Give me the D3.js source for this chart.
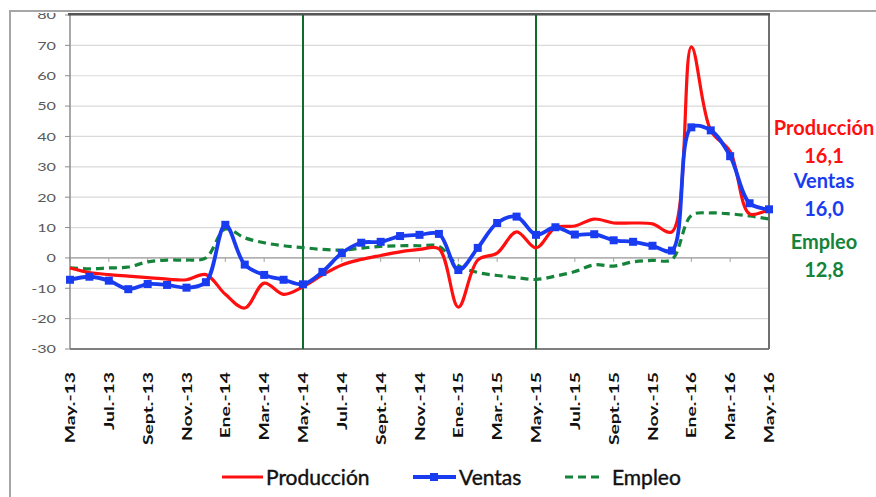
<!DOCTYPE html>
<html>
<head>
<meta charset="utf-8">
<script src="https://cdn.jsdelivr.net/npm/d3@7/dist/d3.min.js"></script>
<style>
  html, body { margin: 0; padding: 0; background: #fff; }
  svg { display: block; }
</style>
</head>
<body>
<svg id="chart" width="876" height="497"></svg>
<script>
// Monthly categories, May 2013 – May 2016
const months = ['May.-13','Jun.-13','Jul.-13','Ago.-13','Sept.-13','Oct.-13','Nov.-13','Dic.-13',
  'Ene.-14','Feb.-14','Mar.-14','Abr.-14','May.-14','Jun.-14','Jul.-14','Ago.-14','Sept.-14','Oct.-14','Nov.-14','Dic.-14',
  'Ene.-15','Feb.-15','Mar.-15','Abr.-15','May.-15','Jun.-15','Jul.-15','Ago.-15','Sept.-15','Oct.-15','Nov.-15','Dic.-15',
  'Ene.-16','Feb.-16','Mar.-16','Abr.-16','May.-16'];

// Labelled months on the category axis
const tickLabels = ['May.-13','Jul.-13','Sept.-13','Nov.-13','Ene.-14','Mar.-14','May.-14','Jul.-14','Sept.-14','Nov.-14',
  'Ene.-15','Mar.-15','May.-15','Jul.-15','Sept.-15','Nov.-15','Ene.-16','Mar.-16','May.-16'];

const produccion = [-3.3,-4.8,-5.5,-6.0,-6.5,-7.0,-7.2,-5.5,-12.0,-16.5,-8.3,-12.0,-9.5,-5.6,-2.3,-0.5,0.8,2.0,2.8,3.0,
  -16.2,-0.7,1.6,8.6,3.3,10.0,10.5,12.8,11.5,11.5,11.2,8.6,69.5,42.0,35.0,14.5,16.1];

const ventas = [-7.2,-6.2,-7.5,-10.3,-8.6,-8.9,-9.8,-8.0,10.9,-2.2,-5.6,-7.2,-8.7,-4.6,1.6,5.0,5.3,7.2,7.6,7.9,
  -4.0,3.3,11.5,13.6,7.6,10.1,7.7,7.8,5.8,5.3,4.0,2.4,43.0,42.0,33.5,18.0,16.0];

const empleo = [-3.3,-3.6,-3.3,-3.0,-1.3,-0.7,-0.7,0.0,9.5,6.6,5.0,4.0,3.4,2.8,2.6,3.2,3.8,4.0,4.0,3.8,
  -2.5,-4.8,-5.8,-6.5,-7.1,-6.0,-4.5,-2.3,-2.7,-1.3,-0.8,-0.5,14.0,14.8,14.5,13.8,12.8];

const yTicks = [-30,-20,-10,0,10,20,30,40,50,60,70,80];
const markerMonths = ['May.-14','May.-15'];

const seriesNames = ['Producción','Ventas','Empleo'];
const latest = ['16,1','16,0','12,8'];

const colors = { prod: '#ff1010', vent: '#1a3cf0', emp: '#15843a', vline: '#0d6b2c' };

const svg = d3.select('#chart');
const plot = { left: 70, right: 769, top: 15, bottom: 349 };

const x = d3.scalePoint().domain(months).range([plot.left, plot.right]);
const y = d3.scaleLinear().domain([-30, 80]).range([plot.bottom, plot.top]);

// Outer frame of the chart object
svg.append('defs').append('clipPath').attr('id', 'frameClip')
  .append('rect').attr('x', 10).attr('y', 13).attr('width', 900).attr('height', 500);

svg.append('rect').attr('x', 10).attr('y', 11).attr('width', 900).attr('height', 500)
  .attr('fill', '#fff').attr('stroke', '#a6a6a6').attr('stroke-width', 2);

const g = svg.append('g').attr('clip-path', 'url(#frameClip)');

// Horizontal gridlines
g.append('g').selectAll('line').data(yTicks).join('line')
  .attr('x1', plot.left).attr('x2', plot.right)
  .attr('y1', d => y(d)).attr('y2', d => y(d))
  .attr('stroke', '#d9d9d9').attr('stroke-width', 1.2);

// Value axis: ticks and labels
const yAxis = g.append('g');
yAxis.selectAll('line').data(yTicks).join('line')
  .attr('x1', plot.left - 5).attr('x2', plot.left)
  .attr('y1', d => y(d)).attr('y2', d => y(d))
  .attr('stroke', '#8c8c8c').attr('stroke-width', 1);
yAxis.selectAll('text').data(yTicks).join('text')
  .attr('transform', d => `translate(56,${y(d)}) scale(1.35,1)`)
  .attr('dy', '0.36em')
  .attr('text-anchor', 'end')
  .attr('font-family', 'Lato, sans-serif')
  .attr('font-size', 12)
  .attr('fill', '#595959')
  .text(d => d);

// Zero line acting as category axis, with small ticks
g.append('line').attr('x1', plot.left).attr('x2', plot.right)
  .attr('y1', y(0)).attr('y2', y(0)).attr('stroke', '#a0a0a0').attr('stroke-width', 1.3);
g.append('g').selectAll('line').data(tickLabels).join('line')
  .attr('x1', d => x(d)).attr('x2', d => x(d))
  .attr('y1', y(0)).attr('y2', y(0) + 4)
  .attr('stroke', '#a0a0a0').attr('stroke-width', 1);

// Plot area border
g.append('line').attr('x1', plot.left).attr('x2', plot.left).attr('y1', plot.top).attr('y2', plot.bottom)
  .attr('stroke', '#8c8c8c').attr('stroke-width', 1.5);
g.append('line').attr('x1', plot.left).attr('x2', plot.right).attr('y1', plot.bottom).attr('y2', plot.bottom)
  .attr('stroke', '#7f7f7f').attr('stroke-width', 1.8);
g.append('line').attr('x1', plot.right).attr('x2', plot.right).attr('y1', plot.top).attr('y2', plot.bottom)
  .attr('stroke', '#6f6f6f').attr('stroke-width', 2);
g.append('line').attr('x1', plot.left - 2).attr('x2', plot.right + 1).attr('y1', plot.top - 1).attr('y2', plot.top - 1)
  .attr('stroke', '#555').attr('stroke-width', 3);

// Vertical reference lines
g.append('g').selectAll('line').data(markerMonths).join('line')
  .attr('x1', d => x(d)).attr('x2', d => x(d))
  .attr('y1', plot.top).attr('y2', plot.bottom)
  .attr('stroke', colors.vline).attr('stroke-width', 2);

// Category labels, rotated
g.append('g').selectAll('text').data(tickLabels).join('text')
  .attr('transform', d => `translate(${x(d)},372) rotate(-90) scale(1.38,1)`)
  .attr('dy', '0.36em')
  .attr('text-anchor', 'end')
  .attr('font-family', 'Lato, sans-serif')
  .attr('font-weight', 700)
  .attr('font-size', 14)
  .attr('fill', '#111')
  .text(d => d);

// Series lines
const line = d3.line()
  .x((d, i) => x(months[i]))
  .y(d => y(d))
  .curve(d3.curveCatmullRom.alpha(0.5));

g.append('path').datum(empleo).attr('d', line)
  .attr('fill', 'none').attr('stroke', colors.emp).attr('stroke-width', 3.2)
  .attr('stroke-dasharray', '8,5');

g.append('path').datum(produccion).attr('d', line)
  .attr('fill', 'none').attr('stroke', colors.prod).attr('stroke-width', 3.2);

g.append('path').datum(ventas).attr('d', line)
  .attr('fill', 'none').attr('stroke', colors.vent).attr('stroke-width', 3.8);

g.append('g').selectAll('rect').data(ventas).join('rect')
  .attr('x', (d, i) => x(months[i]) - 4)
  .attr('y', d => y(d) - 4)
  .attr('width', 8).attr('height', 8)
  .attr('fill', colors.vent);

// Latest values on the right
const sideColors = [colors.prod, colors.vent, colors.emp];
const sideY = [[128, 156], [181, 209], [242, 270]];
const side = g.append('g').attr('font-family', 'Lato, sans-serif').attr('font-weight', 700)
  .attr('font-size', 20).attr('text-anchor', 'middle');
seriesNames.forEach((name, i) => {
  side.append('text').attr('x', 824).attr('y', sideY[i][0]).attr('dy', '0.36em')
    .attr('fill', sideColors[i]).text(name);
  side.append('text').attr('x', 824).attr('y', sideY[i][1]).attr('dy', '0.36em')
    .attr('fill', sideColors[i]).text(latest[i]);
});

// Legend
const legendY = 477;
const legend = g.append('g').attr('font-family', 'Lato, sans-serif').attr('font-size', 21)
  .attr('fill', '#111').attr('stroke', '#111').attr('stroke-width', 0.4);
legend.append('line').attr('x1', 222).attr('x2', 263).attr('y1', legendY).attr('y2', legendY)
  .attr('stroke', colors.prod).attr('stroke-width', 3.2);
legend.append('text').attr('x', 266).attr('y', legendY).attr('dy', '0.36em').text(seriesNames[0]);
legend.append('line').attr('x1', 413).attr('x2', 456).attr('y1', legendY).attr('y2', legendY)
  .attr('stroke', colors.vent).attr('stroke-width', 3.8);
legend.append('rect').attr('x', 430).attr('y', legendY - 4).attr('width', 8).attr('height', 8)
  .attr('fill', colors.vent).attr('stroke', 'none');
legend.append('text').attr('x', 459).attr('y', legendY).attr('dy', '0.36em').text(seriesNames[1]);
legend.append('line').attr('x1', 565).attr('x2', 604).attr('y1', legendY).attr('y2', legendY)
  .attr('stroke', colors.emp).attr('stroke-width', 3.2).attr('stroke-dasharray', '8,5');
legend.append('text').attr('x', 612).attr('y', legendY).attr('dy', '0.36em').text(seriesNames[2]);
</script>
</body>
</html>
